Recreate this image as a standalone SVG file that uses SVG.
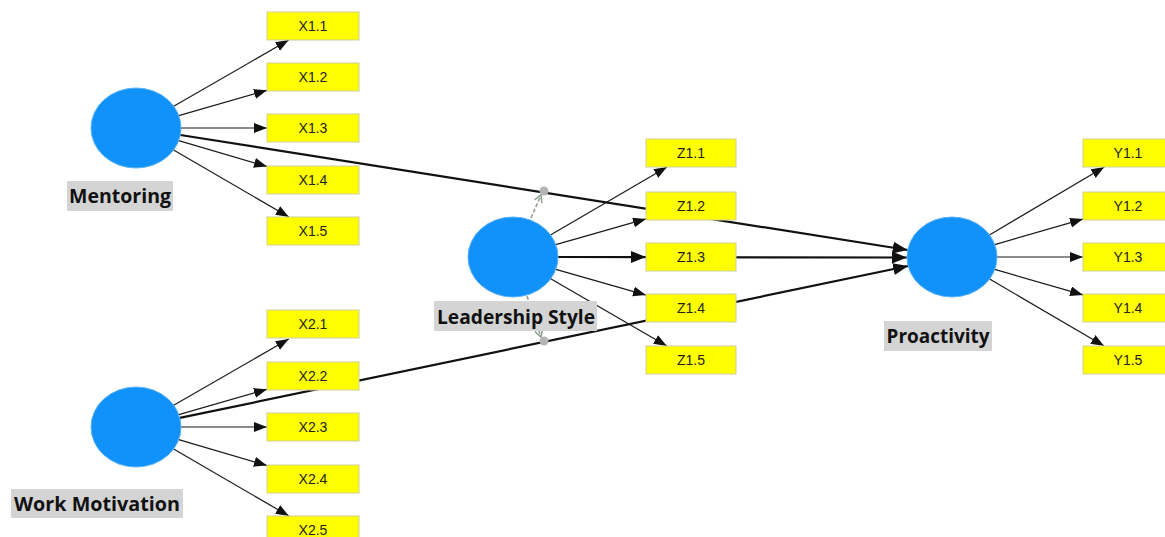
<svg xmlns="http://www.w3.org/2000/svg" width="1165" height="537" viewBox="0 0 1165 537">
<style>
.bg{fill:#ffffff}
.lv{fill:#1192fb;stroke:#58b0f5;stroke-width:1}
.ind rect{fill:#ffff00;stroke:#cfcf9a;stroke-width:1}
.ind text{font-family:"Liberation Sans",Arial,sans-serif;font-size:14px;fill:#222;text-anchor:middle}
.lbl rect{fill:#d4d4d4}
.lbl text{font-family:"Open Sans","Liberation Sans",sans-serif;font-weight:bold;font-size:19px;fill:#111;text-anchor:middle}
.thin{stroke:#1a1a1a;stroke-width:1.2;fill:none;marker-end:url(#ah)}
.thick{stroke:#111;stroke-width:2.2;fill:none;marker-end:url(#ahb)}
.dash{stroke:#8fa08f;stroke-width:1.6;fill:none;stroke-dasharray:4 2;marker-end:url(#ao)}
.dot{fill:#b4b4b4}
</style>
<defs>
<marker id="ah" markerUnits="userSpaceOnUse" markerWidth="14" markerHeight="12" refX="13" refY="5" orient="auto">
<path d="M0,0 L13,5 L0,10 Z" fill="#111"/>
</marker>
<marker id="ahb" markerUnits="userSpaceOnUse" markerWidth="16" markerHeight="14" refX="15" refY="6" orient="auto">
<path d="M0,0 L15,6 L0,12 Z" fill="#111"/>
</marker>
<marker id="ao" markerUnits="userSpaceOnUse" markerWidth="10" markerHeight="10" refX="8" refY="5" orient="auto">
<path d="M1,1 L8,5 L1,9" fill="none" stroke="#8fa08f" stroke-width="1.5"/>
</marker>
</defs>
<rect class="bg" x="0" y="0" width="1165" height="537"/>
<g id="connectors">
<line class="thick" x1="180.3" y1="135" x2="907.7" y2="250"/>
<line class="thick" x1="179.8" y1="417.9" x2="908.2" y2="266"/>
<line class="thick" x1="558" y1="257" x2="907" y2="257.5"/>
<line class="thin" x1="173.7" y1="106.3" x2="288.7" y2="40"/>
<line class="thin" x1="178.8" y1="115.7" x2="267" y2="90.3"/>
<line class="thin" x1="181" y1="128" x2="267" y2="128"/>
<line class="thin" x1="178.7" y1="140.6" x2="267" y2="166.5"/>
<line class="thin" x1="173.6" y1="149.9" x2="288.9" y2="217"/>
<line class="thin" x1="173.7" y1="405.3" x2="288.7" y2="339"/>
<line class="thin" x1="178.8" y1="414.7" x2="267" y2="389.3"/>
<line class="thin" x1="181" y1="427" x2="267" y2="427"/>
<line class="thin" x1="178.7" y1="439.6" x2="267" y2="465.5"/>
<line class="thin" x1="173.6" y1="448.9" x2="288.9" y2="516"/>
<line class="thin" x1="550.9" y1="234.8" x2="667" y2="167"/>
<line class="thin" x1="555.8" y1="244.7" x2="646" y2="218.9"/>
<line class="thick" x1="558" y1="257" x2="646" y2="257"/>
<line class="thin" x1="555.8" y1="269.3" x2="646" y2="295.1"/>
<line class="thin" x1="550.7" y1="278.8" x2="666.8" y2="346"/>
<line class="thin" x1="989.5" y1="234.9" x2="1104.3" y2="167"/>
<line class="thin" x1="994.8" y1="244.6" x2="1083" y2="219.1"/>
<line class="thin" x1="997" y1="257" x2="1083" y2="257"/>
<line class="thin" x1="994.8" y1="269.4" x2="1083" y2="294.9"/>
<line class="thin" x1="989.6" y1="279" x2="1104.1" y2="346"/>
<line class="dash" x1="531" y1="218" x2="541" y2="195"/>
<line class="dash" x1="527" y1="296" x2="541" y2="337"/>
<circle class="dot" cx="544" cy="191" r="4.5"/>
<circle class="dot" cx="544" cy="341" r="4.5"/>
</g>
<g id="mentoring">
<ellipse class="lv" cx="136" cy="128" rx="45" ry="40"/>
<g class="lbl"><rect x="67" y="181" width="106" height="30"/><text x="120" y="203" textLength="102" lengthAdjust="spacingAndGlyphs">Mentoring</text></g>
</g>
<g id="x1" class="ind">
<g id="x1_1"><rect x="267" y="12" width="92" height="28"/><text x="313" y="31">X1.1</text></g>
<g id="x1_2"><rect x="267" y="63" width="92" height="28"/><text x="313" y="82">X1.2</text></g>
<g id="x1_3"><rect x="267" y="114" width="92" height="28"/><text x="313" y="133">X1.3</text></g>
<g id="x1_4"><rect x="267" y="166" width="92" height="28"/><text x="313" y="185">X1.4</text></g>
<g id="x1_5"><rect x="267" y="217" width="92" height="28"/><text x="313" y="236">X1.5</text></g>
</g>
<g id="work_motivation">
<ellipse class="lv" cx="136" cy="427" rx="45" ry="40"/>
<g class="lbl"><rect x="11" y="489" width="172" height="29"/><text x="97" y="511" textLength="166" lengthAdjust="spacingAndGlyphs">Work Motivation</text></g>
</g>
<g id="x2" class="ind">
<g id="x2_1"><rect x="267" y="310" width="92" height="28"/><text x="313" y="329">X2.1</text></g>
<g id="x2_2"><rect x="267" y="362" width="92" height="28"/><text x="313" y="381">X2.2</text></g>
<g id="x2_3"><rect x="267" y="413" width="92" height="28"/><text x="313" y="432">X2.3</text></g>
<g id="x2_4"><rect x="267" y="465" width="92" height="28"/><text x="313" y="484">X2.4</text></g>
<g id="x2_5"><rect x="267" y="516" width="92" height="28"/><text x="313" y="535">X2.5</text></g>
</g>
<g id="leadership_style">
<ellipse class="lv" cx="513" cy="257" rx="45" ry="40"/>
<g class="lbl"><rect x="434" y="301" width="163" height="30"/><text x="516" y="324" textLength="158" lengthAdjust="spacingAndGlyphs">Leadership Style</text></g>
</g>
<g id="z1" class="ind">
<g id="z1_1"><rect x="646" y="139" width="90" height="28"/><text x="691" y="158">Z1.1</text></g>
<g id="z1_2"><rect x="646" y="192" width="90" height="28"/><text x="691" y="211">Z1.2</text></g>
<g id="z1_3"><rect x="646" y="243" width="90" height="28"/><text x="691" y="262">Z1.3</text></g>
<g id="z1_4"><rect x="646" y="294" width="90" height="28"/><text x="691" y="313">Z1.4</text></g>
<g id="z1_5"><rect x="646" y="346" width="90" height="28"/><text x="691" y="365">Z1.5</text></g>
</g>
<g id="proactivity">
<ellipse class="lv" cx="952" cy="257" rx="45" ry="40"/>
<g class="lbl"><rect x="884" y="321" width="108" height="30"/><text x="938" y="343" textLength="103" lengthAdjust="spacingAndGlyphs">Proactivity</text></g>
</g>
<g id="y1" class="ind">
<g id="y1_1"><rect x="1083" y="139" width="90" height="28"/><text x="1128" y="158">Y1.1</text></g>
<g id="y1_2"><rect x="1083" y="192" width="90" height="28"/><text x="1128" y="211">Y1.2</text></g>
<g id="y1_3"><rect x="1083" y="243" width="90" height="28"/><text x="1128" y="262">Y1.3</text></g>
<g id="y1_4"><rect x="1083" y="294" width="90" height="28"/><text x="1128" y="313">Y1.4</text></g>
<g id="y1_5"><rect x="1083" y="346" width="90" height="28"/><text x="1128" y="365">Y1.5</text></g>
</g>
</svg>
